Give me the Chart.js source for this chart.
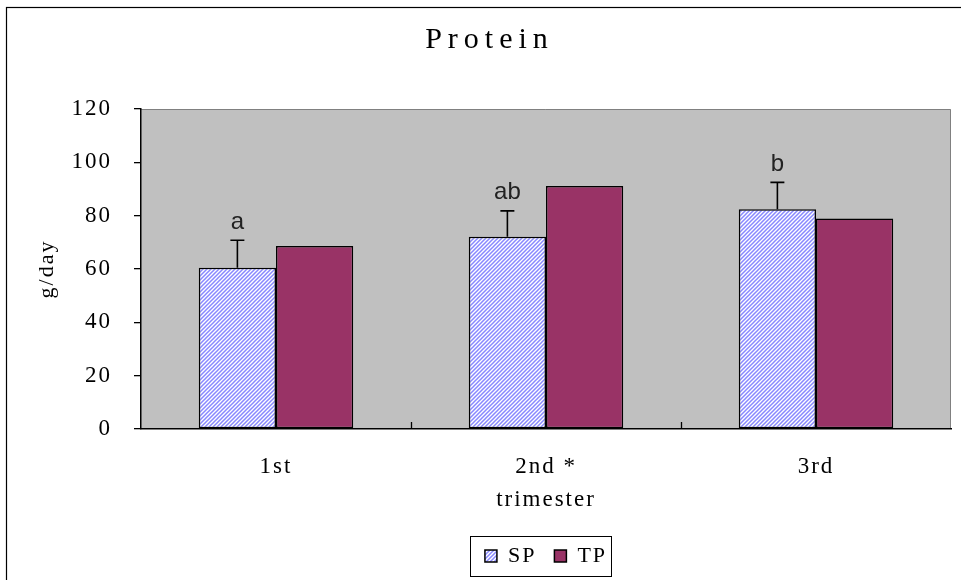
<!DOCTYPE html>
<html>
<head>
<meta charset="utf-8">
<style>
    html, body { margin: 0; padding: 0; background: #fff; }
</style>
</head>
<body>
<canvas id="proteinChart" width="961" height="580"></canvas>

<script src="https://cdn.jsdelivr.net/npm/chart.js"></script>
<script>
    // values
    const trimesters = ['1st', '2nd *', '3rd'];
    const spValues = [60.5, 72.1, 82.4];
    const spErrors = [10.3, 9.7, 10.1];
    const tpValues = [68.6, 91.1, 78.9];
    const spLetters = ['a', 'ab', 'b'];
    const yTicks = [0, 20, 40, 60, 80, 100, 120];

    const serif = "'Liberation Serif', 'DejaVu Serif', serif";
    const ctx = document.getElementById('proteinChart').getContext('2d');

    // light blue diagonal hatch for SP
    function makeHatch() {
        const c = document.createElement('canvas');
        c.width = 4;
        c.height = 4;
        const g = c.getContext('2d');
        g.fillStyle = '#ffffff';
        g.fillRect(0, 0, 4, 4);
        g.strokeStyle = '#8888ff';
        g.lineWidth = 1.5;
        g.beginPath();
        g.moveTo(-1, 5); g.lineTo(5, -1);
        g.moveTo(-1, 1); g.lineTo(1, -1);
        g.moveTo(3, 5); g.lineTo(5, 3);
        g.stroke();
        return ctx.createPattern(c, 'repeat');
    }

    const proteinPlugin = {
        id: 'proteinPlugin',
        afterInit(chart) {
            // wider spacing for the title text
            const tb = chart.titleBlock;
            const drawTitle = tb.draw.bind(tb);
            tb.draw = function () {
                const c = chart.ctx;
                const prev = c.letterSpacing;
                c.letterSpacing = '6px';
                drawTitle();
                c.letterSpacing = prev;
            };
        },
        beforeUpdate(chart) {
            chart.ctx.letterSpacing = '2px';
        },
        afterLayout(chart) {
            const area = chart.chartArea;
            chart.legend.left = area.left;
            chart.legend.right = area.right;
            chart.titleBlock.left += 14;
            chart.titleBlock.right += 14;
        },
        beforeDraw(chart) {
            const c = chart.ctx;
            const a = chart.chartArea;
            c.letterSpacing = '2px';
            c.save();
            c.fillStyle = '#c0c0c0';
            c.fillRect(a.left, a.top, a.right - a.left, a.bottom - a.top);
            c.strokeStyle = '#808080';
            c.lineWidth = 1;
            c.beginPath();
            c.moveTo(a.left, a.top + 0.5);
            c.lineTo(a.right - 0.5, a.top + 0.5);
            c.lineTo(a.right - 0.5, a.bottom);
            c.stroke();
            c.restore();
        },
        afterDatasetsDraw(chart) {
            const c = chart.ctx;
            const y = chart.scales.y;
            const x = chart.scales.x;
            const a = chart.chartArea;
            c.save();
            // error bars + letters on SP
            const bars = chart.getDatasetMeta(0).data;
            bars.forEach((bar, i) => {
                const yTop = y.getPixelForValue(spValues[i] + spErrors[i]);
                c.strokeStyle = '#000';
                c.lineWidth = 1.6;
                c.beginPath();
                c.moveTo(bar.x, bar.y);
                c.lineTo(bar.x, yTop);
                c.moveTo(bar.x - 7, yTop);
                c.lineTo(bar.x + 7, yTop);
                c.stroke();
                c.letterSpacing = '0px';
                c.fillStyle = '#222';
                c.font = "24px 'Liberation Sans', Arial, sans-serif";
                c.textAlign = 'center';
                c.textBaseline = 'bottom';
                c.fillText(spLetters[i], bar.x, yTop - 6);
            });
            // short ticks pointing up at category boundaries
            const step = x.getPixelForValue(1) - x.getPixelForValue(0);
            c.strokeStyle = '#000';
            c.lineWidth = 1.3;
            c.beginPath();
            for (let i = 1; i < trimesters.length; i++) {
                const px = Math.round(x.getPixelForValue(i) - step / 2) + 0.5;
                c.moveTo(px, a.bottom);
                c.lineTo(px, a.bottom - 7);
            }
            c.stroke();
            c.restore();
        },
        afterDraw(chart) {
            const c = chart.ctx;
            c.save();
            c.strokeStyle = '#000';
            c.lineWidth = 1.2;
            // outer frame of the chart object
            c.strokeRect(6.5, 7.5, 2000, 2000);
            // frame around the legend
            const hb = chart.legend.legendHitBoxes;
            if (hb && hb.length) {
                const first = hb[0];
                const last = hb[hb.length - 1];
                const cy = first.top + first.height / 2;
                const left = Math.round(first.left - 15) + 0.5;
                const right = Math.round(last.left + last.width + 4) + 0.5;
                c.lineWidth = 1;
                c.strokeRect(left, Math.round(cy - 20) + 0.5, right - left, 40);
            }
            c.restore();
        }
    };

    const proteinChart = new Chart(ctx, {
        type: 'bar',
        data: {
            labels: trimesters,
            datasets: [
                {
                    label: 'SP',
                    data: spValues,
                    backgroundColor: makeHatch(),
                    borderColor: '#000',
                    borderWidth: 1.5,
                    borderSkipped: false
                },
                {
                    label: 'TP',
                    data: tpValues,
                    backgroundColor: '#993366',
                    borderColor: '#000',
                    borderWidth: 1.5,
                    borderSkipped: false
                }
            ]
        },
        options: {
            responsive: false,
            animation: false,
            devicePixelRatio: 1,
            layout: { padding: { left: 0, right: 10, top: 0, bottom: 3 } },
            datasets: { bar: { categoryPercentage: 0.572, barPercentage: 1 } },
            plugins: {
                title: {
                    display: true,
                    text: 'Protein',
                    color: '#000',
                    font: { family: serif, size: 30, weight: 'normal' },
                    padding: { top: 22, bottom: 51 }
                },
                legend: {
                    position: 'bottom',
                    labels: {
                        color: '#000',
                        font: { family: serif, size: 22 },
                        boxWidth: 12,
                        boxHeight: 12,
                        padding: 18
                    }
                },
                tooltip: { enabled: false }
            },
            scales: {
                x: {
                    grid: { display: false, drawTicks: false },
                    border: { color: '#000', width: 1.5 },
                    ticks: { color: '#000', font: { family: serif, size: 23 }, padding: 24 },
                    title: {
                        display: true,
                        text: 'trimester',
                        color: '#000',
                        font: { family: serif, size: 23 },
                        padding: { top: 0, bottom: 13 }
                    },
                    afterFit(scale) { scale.height = 98; }
                },
                y: {
                    min: 0,
                    max: 120,
                    afterBuildTicks(scale) { scale.ticks = yTicks.map(v => ({ value: v })); },
                    grid: { drawOnChartArea: false, drawTicks: true, tickLength: 7, color: '#000', lineWidth: 1.3 },
                    border: { color: '#000', width: 1.5 },
                    ticks: { color: '#000', font: { family: serif, size: 23 }, padding: 22 },
                    title: {
                        display: true,
                        text: 'g/day',
                        color: '#000',
                        font: { family: serif, size: 22 },
                        padding: { top: 34, bottom: 0 }
                    },
                    afterFit(scale) { scale.width = 141; }
                }
            }
        },
        plugins: [proteinPlugin]
    });
</script>
</body>
</html>
